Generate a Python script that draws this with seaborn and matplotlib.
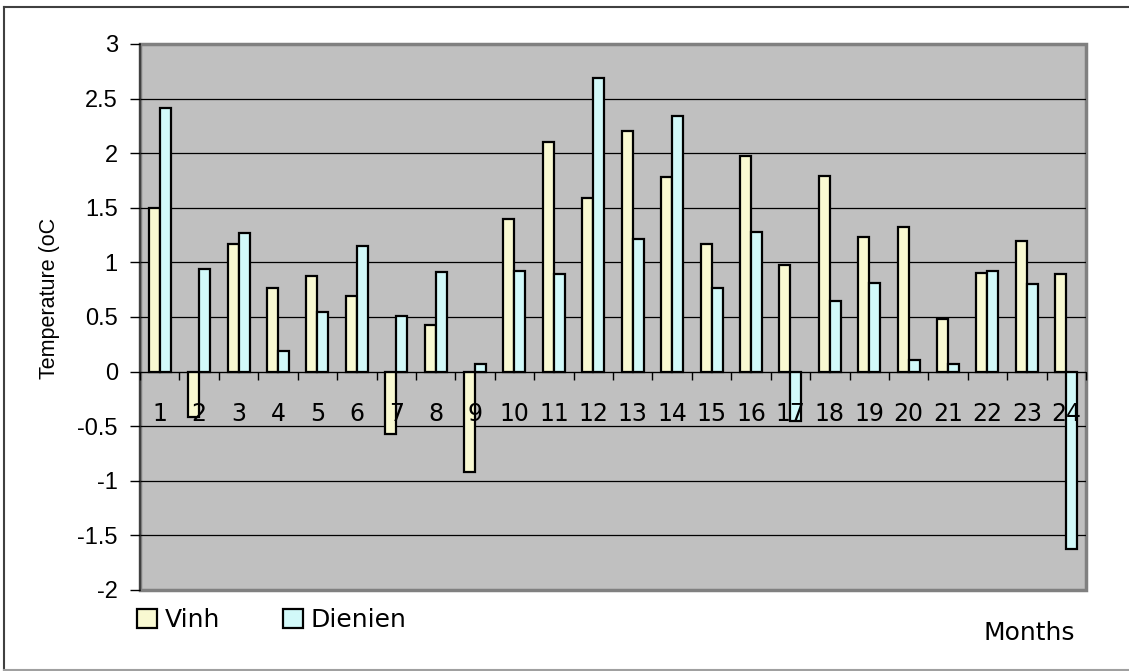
import numpy as np
import pandas as pd
import matplotlib
matplotlib.use("Agg")
import matplotlib.pyplot as plt
import seaborn as sns
from matplotlib.lines import Line2D

months = list(range(1, 25))
vinh = [1.50, -0.42, 1.17, 0.77, 0.88, 0.69, -0.57, 0.43, -0.92, 1.40, 2.10, 1.59,
        2.20, 1.78, 1.17, 1.97, 0.98, 1.79, 1.23, 1.32, 0.48, 0.90, 1.20, 0.89]
dienien = [2.41, 0.94, 1.27, 0.19, 0.55, 1.15, 0.51, 0.91, 0.07, 0.92, 0.89, 2.69,
           1.21, 2.34, 0.77, 1.28, -0.45, 0.65, 0.81, 0.11, 0.07, 0.92, 0.80, -1.62]
stations = ["Vinh", "Dienien"]
colors = {"Vinh": "#FFFFCC", "Dienien": "#CCFFFF"}

df = pd.DataFrame({
    "Month": months * 2,
    "Temperature": vinh + dienien,
    "Station": ["Vinh"] * len(months) + ["Dienien"] * len(months),
})

plt.rcParams["font.family"] = ["DejaVu Sans"]
arial = "Liberation Sans"

W, H = 1129, 671
fig = plt.figure(figsize=(W / 100, H / 100), dpi=100)
ax = fig.add_axes([140 / W, 1 - 590 / H, (1086 - 140) / W, (590 - 44) / H])

sns.barplot(data=df, x="Month", y="Temperature", hue="Station", hue_order=stations,
            palette=colors, width=0.56, gap=0, edgecolor="black", linewidth=1.6,
            errorbar=None, ax=ax)

ax.set_xlim(-0.5, 23.5)
ax.set_ylim(-2, 3)
yt = np.arange(-2, 3.01, 0.5)
ax.set_yticks(yt)
ax.set_yticklabels([f"{v:g}" for v in yt], family=arial)
ax.set_xticks(range(len(months)))
ax.set_xticklabels([str(m) for m in months], family=arial)
ax.set_facecolor("#C0C0C0")
ax.patch.set_edgecolor("#808080")
ax.patch.set_linewidth(2.5)
# gridlines below the bars, tick labels above them
for v in yt[1:-1]:
    ax.axhline(v, color="black", linewidth=0.9, zorder=0.5)
ax.set_axisbelow(False)

for s in ["top", "right"]:
    ax.spines[s].set_visible(False)
ax.spines["left"].set_color("#404040")
ax.spines["left"].set_linewidth(1.5)
ax.spines["bottom"].set_position(("data", 0))
ax.spines["bottom"].set_color("black")

ax.set_xticks(np.arange(-0.5, 24, 1), minor=True)
ax.tick_params(axis="x", which="major", length=0, pad=22, labelsize=17)
ax.tick_params(axis="x", which="minor", length=6, width=1, color="black")
ax.tick_params(axis="y", length=7, width=1, pad=9, labelsize=17)
ax.set_xlabel("")
ax.set_ylabel("")

fig.text(50 / W, 1 - 298 / H, "Temperature (oC", rotation=90, ha="center", va="center",
         fontsize=15.5, family=arial)
fig.text(1029 / W, 1 - 640 / H, "Months", ha="center", va="baseline", fontsize=18)

handles, labels = ax.get_legend_handles_labels()
ax.get_legend().remove()
fig.legend(handles, labels, loc="center left", bbox_to_anchor=(137 / W, 1 - 620 / H),
           ncol=2, frameon=False, fontsize=18, handlelength=0.8, handleheight=0.8,
           handletextpad=0.32, columnspacing=2.5, borderpad=0, borderaxespad=0)

# outer chart frame
fig.add_artist(Line2D([4 / W, 1], [1 - 7 / H, 1 - 7 / H], transform=fig.transFigure,
                      color="#404040", linewidth=1.5))
fig.add_artist(Line2D([4 / W, 4 / W], [1 - 7 / H, 1 - 670 / H], transform=fig.transFigure,
                      color="#404040", linewidth=1.5))
fig.add_artist(Line2D([4 / W, 1], [1 - 670 / H, 1 - 670 / H], transform=fig.transFigure,
                      color="#A0A0A0", linewidth=1.5))

fig.savefig("out.png", dpi=100)
